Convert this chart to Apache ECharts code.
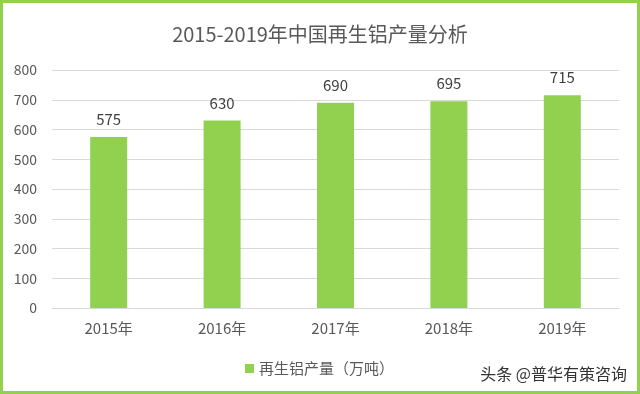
<!DOCTYPE html>
<html><head><meta charset="utf-8">
<script src="https://cdn.jsdelivr.net/npm/echarts@6/dist/echarts.min.js"></script>
<style>html,body{margin:0;padding:0;background:#fff;}#c{width:640px;height:394px;}</style>
</head><body><div id="c"></div>
<script>
const categories = ['2015年','2016年','2017年','2018年','2019年'];
const production = [575, 630, 690, 695, 715];
const seriesName = '再生铝产量（万吨）';
const titleText = '2015-2019年中国再生铝产量分析';
const watermark = '头条 @普华有策咨询';

const chart = echarts.init(document.getElementById('c'));
const font = '"Noto Sans CJK SC", "Microsoft YaHei", sans-serif';
chart.setOption({
  backgroundColor: '#fff',
  animation: false,
  title: {
    text: titleText, left: 'center', top: 19,
    textStyle: {fontFamily: font, fontSize: 20, fontWeight: 'normal', color: '#595959'}
  },
  graphic: [
    {type: 'rect', shape: {x: 1.5, y: 1.5, width: 637, height: 391}, style: {fill: 'none', stroke: '#92D050', lineWidth: 3}, z: 100},
    {type: 'text', right: 13, top: 366, style: {text: watermark, font: '16px ' + font, fill: '#333'}, z: 100}
  ],
  legend: {
    data: [seriesName], left: 240, top: 356, itemWidth: 9, itemHeight: 9, itemGap: 5,
    icon: 'rect',
    textStyle: {fontFamily: font, fontSize: 15, color: '#595959'}
  },
  grid: {left: 52, right: 21, top: 70, bottom: 86},
  xAxis: {
    type: 'category', data: categories,
    axisLine: {lineStyle: {color: '#d9d9d9'}}, axisTick: {show: false},
    axisLabel: {fontFamily: font, fontSize: 15, color: '#595959', margin: 13}
  },
  yAxis: {
    type: 'value', min: 0, max: 800, interval: 100,
    axisLine: {show: false}, axisTick: {show: false},
    splitLine: {lineStyle: {color: '#d9d9d9'}},
    axisLabel: {fontFamily: font, fontSize: 14, color: '#595959', margin: 15}
  },
  series: [{
    name: seriesName, type: 'bar', data: production, barWidth: 37,
    itemStyle: {color: '#92D050'},
    label: {show: true, position: 'top', distance: 10, fontFamily: font, fontSize: 15, color: '#404040'}
  }]
});
</script></body></html>
